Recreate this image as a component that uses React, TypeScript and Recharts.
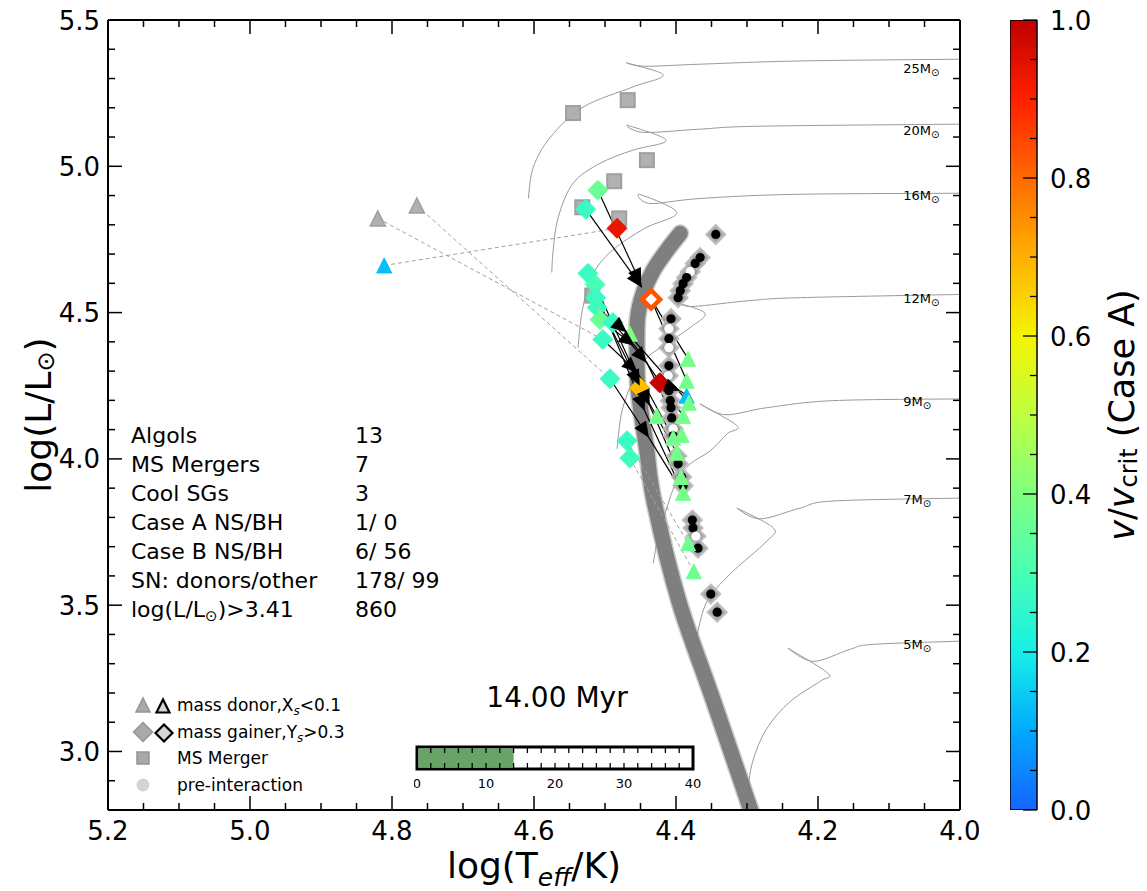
import React from 'react';
import { ComposedChart, Line, Scatter, XAxis, YAxis, BarChart, Bar } from 'recharts';

const FONT = "'DejaVu Sans', 'Liberation Sans', sans-serif";

// ---- layout ----
const W = 1147;
const H = 891;
const PAD_LEFT = 108;
const PAD_RIGHT = 187;
const PAD_TOP = 20;
const PAD_BOTTOM = 81;
const AGE_BAR_H = 22;

// ---- axes ----
const T_DOMAIN: [number, number] = [4.0, 5.2];
const L_DOMAIN: [number, number] = [2.8, 5.5];
const T_LABELS = [4.0, 4.2, 4.4, 4.6, 4.8, 5.0, 5.2];
const L_LABELS = [3.0, 3.5, 4.0, 4.5, 5.0, 5.5];
const T_MINOR_STEP = 0.05;
const L_MINOR_STEP = 0.1;

const PX_PER_T = (W - PAD_LEFT - PAD_RIGHT) / (T_DOMAIN[1] - T_DOMAIN[0]);
const PX_PER_L = (H - PAD_TOP - PAD_BOTTOM) / (L_DOMAIN[1] - L_DOMAIN[0]);

const stepTicks = (lo: number, hi: number, step: number) => {
  const n = Math.round((hi - lo) / step);
  return Array.from({ length: n + 1 }, (_, i) => +(lo + i * step).toFixed(3));
};
const isIn = (v: number, list: number[]) => list.some((m) => Math.abs(m - v) < 1e-6);
const T_TICKS = stepTicks(T_DOMAIN[0], T_DOMAIN[1], T_MINOR_STEP);
const L_TICKS = stepTicks(L_DOMAIN[0], L_DOMAIN[1], L_MINOR_STEP);

// ---- evolutionary tracks [log Teff, log L] ----
const TRACK_MASSES = [25, 20, 16, 12, 9, 7, 5];
const TRACK_25 = [[4.608, 4.890], [4.601, 4.997], [4.577, 5.099], [4.531, 5.202], [4.461, 5.271], [4.418, 5.312], [4.469, 5.353], [4.444, 5.342], [4.366, 5.349], [4.225, 5.360], [4.0, 5.366]];
const TRACK_20 = [[4.575, 4.637], [4.573, 4.712], [4.566, 4.825], [4.545, 4.942], [4.507, 5.010], [4.461, 5.055], [4.414, 5.089], [4.468, 5.140], [4.446, 5.116], [4.366, 5.127], [4.282, 5.137], [4.0, 5.144]];
const TRACK_16 = [[4.538, 4.380], [4.532, 4.507], [4.518, 4.627], [4.490, 4.712], [4.444, 4.788], [4.399, 4.842], [4.451, 4.904], [4.437, 4.873], [4.366, 4.890], [4.235, 4.904], [4.0, 4.908]];
const TRACK_12 = [[4.483, 4.034], [4.476, 4.164], [4.458, 4.284], [4.441, 4.346], [4.413, 4.394], [4.380, 4.449], [4.359, 4.497], [4.394, 4.531], [4.376, 4.521], [4.296, 4.541], [4.225, 4.551], [4.0, 4.562]];
const TRACK_9 = [[4.432, 3.644], [4.425, 3.736], [4.413, 3.832], [4.399, 3.925], [4.380, 3.983], [4.352, 4.027], [4.328, 4.086], [4.314, 4.113], [4.366, 4.188], [4.331, 4.151], [4.272, 4.175], [4.179, 4.199], [4.0, 4.205]];
const TRACK_7 = [[4.377, 3.298], [4.370, 3.401], [4.356, 3.514], [4.324, 3.606], [4.272, 3.719], [4.263, 3.764], [4.314, 3.832], [4.282, 3.795], [4.225, 3.832], [4.179, 3.856], [4.0, 3.866]];
const TRACK_5 = [[4.303, 2.801], [4.300, 2.846], [4.292, 2.966], [4.272, 3.079], [4.239, 3.171], [4.197, 3.240], [4.186, 3.267], [4.242, 3.353], [4.207, 3.308], [4.155, 3.349], [4.123, 3.366], [4.0, 3.377]];
const TRACKS = [TRACK_25, TRACK_20, TRACK_16, TRACK_12, TRACK_9, TRACK_7, TRACK_5];
const TRACK_LABEL_T = 4.08;
const TRACK_LABEL_L = [5.336, 5.123, 4.901, 4.551, 4.199, 3.863, 3.366];

// ---- single stars before interaction (dense band) ----
const PRE_INTERACTION = [[4.394, 4.771], [4.413, 4.712], [4.432, 4.644], [4.446, 4.568], [4.454, 4.483], [4.455, 4.370], [4.454, 4.257], [4.448, 4.140], [4.441, 4.027], [4.431, 3.856], [4.396, 3.514], [4.347, 3.171], [4.293, 2.788]];

// ---- binary products ----
const MS_MERGERS = [[4.545, 5.182], [4.468, 5.226], [4.441, 5.021], [4.487, 4.949], [4.532, 4.860], [4.480, 4.822], [4.518, 4.558]];
const GRAY_DONORS = [[4.820, 4.822], [4.765, 4.866]];
// [log Teff, log L, v/vcrit]
const CASE_A_DONORS = [
  [4.811, 4.661, 0.13], [4.385, 4.216, 0.13],
  [4.465, 4.428, 0.40], [4.383, 4.342, 0.38], [4.385, 4.267, 0.38], [4.382, 4.192, 0.38], [4.390, 4.147, 0.38],
  [4.427, 4.147, 0.38], [4.392, 4.082, 0.38], [4.404, 4.072, 0.38], [4.399, 4.021, 0.38], [4.393, 3.938, 0.38],
  [4.390, 3.884, 0.38], [4.383, 3.712, 0.37], [4.375, 3.616, 0.37],
];
const CASE_A_GAINERS = [
  [4.510, 4.918, 0.36], [4.527, 4.853, 0.27], [4.483, 4.788, 0.93], [4.524, 4.634, 0.27], [4.514, 4.596, 0.30],
  [4.513, 4.551, 0.27], [4.511, 4.517, 0.28], [4.507, 4.476, 0.36], [4.489, 4.466, 0.27], [4.503, 4.408, 0.27],
  [4.493, 4.274, 0.27], [4.451, 4.243, 0.68], [4.423, 4.260, 0.99], [4.469, 4.062, 0.27], [4.465, 4.003, 0.28],
];
const FAST_GAINER = [[4.435, 4.545, 0.83]];
// [log Teff, log L, 1 = hollow centre]
const CASE_B_GAINERS = [
  [4.344, 4.767, 0], [4.366, 4.688, 0], [4.373, 4.668, 0], [4.380, 4.640, 1], [4.385, 4.620, 0], [4.390, 4.599, 0],
  [4.394, 4.575, 0], [4.397, 4.551, 0], [4.407, 4.479, 0], [4.410, 4.445, 1], [4.410, 4.411, 0], [4.410, 4.380, 1],
  [4.410, 4.318, 0], [4.411, 4.284, 1], [4.410, 4.233, 0], [4.408, 4.199, 0], [4.407, 4.175, 0], [4.406, 4.140, 0],
  [4.404, 4.103, 1], [4.404, 4.079, 0], [4.399, 4.010, 0], [4.397, 3.983, 0], [4.392, 3.938, 0], [4.390, 3.908, 0],
  [4.377, 3.791, 0], [4.376, 3.764, 0], [4.372, 3.736, 1], [4.369, 3.695, 0], [4.351, 3.538, 0], [4.342, 3.476, 0],
];

// ---- links between companions ----
const ARROW_FROM = [[4.527, 4.853], [4.510, 4.918], [4.511, 4.517], [4.507, 4.476], [4.489, 4.466], [4.503, 4.408], [4.513, 4.551], [4.423, 4.260], [4.514, 4.596], [4.524, 4.634], [4.493, 4.274]];
const ARROW_TIP = [[4.448, 4.586], [4.449, 4.596], [4.469, 4.432], [4.458, 4.387], [4.441, 4.329], [4.454, 4.295], [4.451, 4.250], [4.394, 4.233], [4.437, 4.182], [4.444, 4.164], [4.438, 4.072]];
const ARROW_ON = [null, null, [4.382, 4.192], [4.390, 4.147], [4.392, 4.082], [4.404, 4.072], [4.399, 4.021], [4.385, 4.216], [4.393, 3.938], [4.390, 3.884], [4.390, 3.884]];
const PLAIN_FROM = [[4.435, 4.545], [4.435, 4.545]];
const PLAIN_TO = [[4.383, 4.342], [4.385, 4.267]];
const DASH_FROM = [[4.811, 4.661], [4.820, 4.822], [4.765, 4.866], [4.469, 4.062], [4.465, 4.003]];
const DASH_TO = [[4.483, 4.788], [4.503, 4.408], [4.493, 4.274], [4.383, 3.712], [4.375, 3.616]];

// ---- summary ----
const STAT_NAMES = ['Algols', 'MS Mergers', 'Cool SGs', 'Case A NS/BH', 'Case B NS/BH', 'SN: donors/other'];
const STAT_VALUES = ['13', '7', '3', '1/ 0', '6/ 56', '178/ 99', '860'];
const AGE_MYR = 14;
const AGE_MAX = 40;
const AGE_LABELS = [0, 10, 20, 30, 40];
const AGE_TICKS = stepTicks(0, AGE_MAX, 2);

// ---- colour scale ----
const CMAP_POS = [0, 0.1, 0.2, 0.3, 0.4, 0.5, 0.6, 0.7, 0.8, 0.9, 1.0];
const CMAP_HEX = ['#1764ff', '#00aaff', '#16f0e6', '#48ffb4', '#80ff80', '#bfff40', '#f4f400', '#ffb000', '#ff6a00', '#ff2000', '#c00000'];
const CBAR_LABELS = [0, 0.2, 0.4, 0.6, 0.8, 1.0];
const CBAR_TICKS = stepTicks(0, 1, 0.05);

const hexRgb = (h: string) => [1, 3, 5].map((i) => parseInt(h.slice(i, i + 2), 16));
const vColor = (v: number) => {
  const c = Math.max(0, Math.min(1, v));
  let i = 0;
  while (i < CMAP_POS.length - 2 && c > CMAP_POS[i + 1]) i++;
  const f = (c - CMAP_POS[i]) / (CMAP_POS[i + 1] - CMAP_POS[i]);
  const a = hexRgb(CMAP_HEX[i]);
  const b = hexRgb(CMAP_HEX[i + 1]);
  const m = a.map((av, k) => Math.round(av + (b[k] - av) * f));
  return `rgb(${m[0]},${m[1]},${m[2]})`;
};

const pts = (arr: number[][]) => arr.map((p) => ({ x: p[0], y: p[1], v: p[2] ?? 0 }));

// Catmull-Rom spline through the given points
const smoothCurve: any = (context: any) => {
  let p: number[][] = [];
  return {
    areaStart() {},
    areaEnd() {},
    lineStart() { p = []; },
    point(x: number, y: number) { p.push([+x, +y]); },
    lineEnd() {
      const n = p.length;
      if (!n) return;
      context.moveTo(p[0][0], p[0][1]);
      for (let i = 0; i < n - 1; i++) {
        const p0 = p[Math.max(i - 1, 0)];
        const p1 = p[i];
        const p2 = p[i + 1];
        const p3 = p[Math.min(i + 2, n - 1)];
        context.bezierCurveTo(
          p1[0] + (p2[0] - p0[0]) / 6, p1[1] + (p2[1] - p0[1]) / 6,
          p2[0] - (p3[0] - p1[0]) / 6, p2[1] - (p3[1] - p1[1]) / 6,
          p2[0], p2[1]);
      }
    },
  };
};

// ---- marker shapes ----
const triPoints = (cx: number, cy: number, s: number) => `${cx},${cy - s} ${cx - s},${cy + s} ${cx + s},${cy + s}`;
const diaPoints = (cx: number, cy: number, r: number) => `${cx},${cy - r} ${cx + r},${cy} ${cx},${cy + r} ${cx - r},${cy}`;

const SquareShape = ({ cx, cy }: any) => (
  <rect x={cx - 7} y={cy - 7} width={14} height={14} fill="#a9a9a9" stroke="#959595" strokeWidth={2} opacity={0.9} />
);
const GrayTriShape = ({ cx, cy }: any) => (
  <polygon points={triPoints(cx, cy, 7.5)} fill="#a9a9a9" stroke="#959595" strokeWidth={1.5} opacity={0.9} />
);
const ColorTriShape = ({ cx, cy, payload }: any) => (
  <polygon points={triPoints(cx, cy, 7.5)} fill={vColor(payload.v)} stroke={vColor(payload.v)} strokeWidth={1} />
);
const ColorDiaShape = ({ cx, cy, payload }: any) => (
  <polygon points={diaPoints(cx, cy, 10)} fill={vColor(payload.v)} stroke={vColor(payload.v)} strokeWidth={1} />
);
const OpenDiaShape = ({ cx, cy, payload }: any) => (
  <polygon points={diaPoints(cx, cy, 9)} fill="#fff" stroke={vColor(payload.v)} strokeWidth={4.5} />
);
const GainerBackShape = ({ cx, cy }: any) => (
  <polygon points={diaPoints(cx, cy, 9.5)} fill="#9b9b9b" stroke="#b8b8b8" strokeWidth={2} opacity={0.9} />
);
const GainerCoreShape = ({ cx, cy, payload }: any) => (
  <circle cx={cx} cy={cy} r={4.6} fill={payload.v ? '#fff' : '#000'} />
);
const ArrowHeadShape = ({ cx, cy, payload }: any) => {
  const dx = -(payload.x - payload.fx) * PX_PER_T;
  const dy = -(payload.y - payload.fy) * PX_PER_L;
  const a = (Math.atan2(dy, dx) * 180) / Math.PI;
  return <polygon points="0,0 -16,-7 -16,7" transform={`translate(${cx},${cy}) rotate(${a})`} fill="#000" />;
};
const TrackLabelShape = ({ cx, cy, payload }: any) => (
  <text x={cx} y={cy + 5} fontSize={13} fontFamily={FONT} fill="#000">
    {`${payload.m}M`}
    <tspan fontSize={10} dy={3}>⊙</tspan>
  </text>
);
const AgeFillShape = ({ x, y, width, height }: any) => (
  <rect x={x + 1.5} y={y + 1.5} width={Math.max(width - 1.5, 0)} height={Math.max(height - 3, 0)} fill="#68a468" />
);

// ---- axis ticks (pointing inwards) ----
const TICK_W = 1.5;
const BottomTick = ({ x, y, payload }: any) => {
  const major = isIn(payload.value, T_LABELS);
  return (
    <g>
      <line x1={x} x2={x} y1={y} y2={y - (major ? 14 : 7)} stroke="#000" strokeWidth={TICK_W} />
      {major && (
        <text x={x} y={y + 30} textAnchor="middle" fontSize={26} fontFamily={FONT} fill="#000">
          {payload.value.toFixed(1)}
        </text>
      )}
    </g>
  );
};
const TopTick = ({ x, y, payload }: any) => {
  const major = isIn(payload.value, T_LABELS);
  return <line x1={x} x2={x} y1={y} y2={y + (major ? 14 : 7)} stroke="#000" strokeWidth={TICK_W} />;
};
const LeftTick = ({ x, y, payload }: any) => {
  const major = isIn(payload.value, L_LABELS);
  return (
    <g>
      <line x1={x} x2={x + (major ? 14 : 7)} y1={y} y2={y} stroke="#000" strokeWidth={TICK_W} />
      {major && (
        <text x={x - 8} y={y + 9.5} textAnchor="end" fontSize={26} fontFamily={FONT} fill="#000">
          {payload.value.toFixed(1)}
        </text>
      )}
    </g>
  );
};
const RightTick = ({ x, y, payload }: any) => {
  const major = isIn(payload.value, L_LABELS);
  return <line x1={x} x2={x - (major ? 14 : 7)} y1={y} y2={y} stroke="#000" strokeWidth={TICK_W} />;
};
const CbarTick = ({ x, y, payload }: any) => {
  const major = isIn(payload.value, CBAR_LABELS);
  return (
    <g>
      <line x1={x} x2={x - (major ? 14 : 7)} y1={y} y2={y} stroke="#000" strokeWidth={1.3} />
      {major && (
        <text x={x + 13} y={y + 9.5} fontSize={26} fontFamily={FONT} fill="#000">
          {payload.value.toFixed(1)}
        </text>
      )}
    </g>
  );
};
// ticks on both long edges of the age bar
const AgeTick = ({ x, y, payload }: any) => (
  <g>
    <line x1={x} x2={x} y1={y} y2={y - 6} stroke="#000" strokeWidth={1.3} />
    <line x1={x} x2={x} y1={y - AGE_BAR_H} y2={y - AGE_BAR_H + 6} stroke="#000" strokeWidth={1.3} />
    {isIn(payload.value, AGE_LABELS) && (
      <text x={x} y={y + 19} textAnchor="middle" fontSize={13} fontFamily={FONT} fill="#000">
        {payload.value}
      </text>
    )}
  </g>
);

const FRAME = { stroke: '#000', strokeWidth: 2 };

export default function App() {
  const trackLabels = TRACK_MASSES.map((m, i) => ({ x: TRACK_LABEL_T, y: TRACK_LABEL_L[i], m }));
  const arrowHeads = ARROW_TIP.map((t, i) => ({ x: t[0], y: t[1], fx: ARROW_FROM[i][0], fy: ARROW_FROM[i][1] }));
  const lineCommon = { dot: false, activeDot: false, isAnimationActive: false, legendType: 'none' as const, dataKey: 'y' };

  return (
    <div style={{ position: 'absolute', left: 0, top: 0, width: W, height: H, background: '#fff', fontFamily: FONT }}>
      <div style={{ position: 'absolute', left: 0, top: 0 }}>
        <ComposedChart width={W} height={H} margin={{ top: 0, right: 0, bottom: 0, left: 0 }}>
          {TRACKS.map((tr, i) => (
            <Line key={`trk${i}`} {...lineCommon} data={pts(tr)} type={smoothCurve} stroke="#9a9a9a" strokeWidth={1} />
          ))}
          <Line {...lineCommon} data={pts(PRE_INTERACTION)} type={smoothCurve} stroke="#8e8e8e" strokeWidth={18} strokeLinecap="round" strokeOpacity={0.45} />
          <Line {...lineCommon} data={pts(PRE_INTERACTION)} type={smoothCurve} stroke="#7f7f7f" strokeWidth={15} strokeLinecap="round" />
          {DASH_FROM.map((f, i) => (
            <Line key={`dash${i}`} {...lineCommon} data={pts([f, DASH_TO[i]])} type="linear" stroke="#a0a0a0" strokeWidth={1} strokeDasharray="4 3" />
          ))}
          {ARROW_FROM.map((f, i) => (
            <Line key={`arr${i}`} {...lineCommon} data={pts([f, ARROW_TIP[i]])} type="linear" stroke="#000" strokeWidth={1.2} />
          ))}
          {ARROW_ON.map((d, i) =>
            d ? <Line key={`on${i}`} {...lineCommon} data={pts([ARROW_TIP[i], d])} type="linear" stroke="#000" strokeWidth={1.2} /> : null
          )}
          {PLAIN_FROM.map((f, i) => (
            <Line key={`pl${i}`} {...lineCommon} data={pts([f, PLAIN_TO[i]])} type="linear" stroke="#000" strokeWidth={1.2} />
          ))}

          <Scatter data={pts(MS_MERGERS)} shape={SquareShape} isAnimationActive={false} legendType="none" />
          <Scatter data={pts(GRAY_DONORS)} shape={GrayTriShape} isAnimationActive={false} legendType="none" />
          <Scatter data={pts(CASE_B_GAINERS)} shape={GainerBackShape} isAnimationActive={false} legendType="none" />
          <Scatter data={pts(CASE_B_GAINERS)} shape={GainerCoreShape} isAnimationActive={false} legendType="none" />
          <Scatter data={pts(CASE_A_DONORS)} shape={ColorTriShape} isAnimationActive={false} legendType="none" />
          <Scatter data={pts(CASE_A_GAINERS)} shape={ColorDiaShape} isAnimationActive={false} legendType="none" />
          <Scatter data={pts(FAST_GAINER)} shape={OpenDiaShape} isAnimationActive={false} legendType="none" />
          <Scatter data={arrowHeads} shape={ArrowHeadShape} isAnimationActive={false} legendType="none" />
          <Scatter data={trackLabels} xAxisId="top" yAxisId="right" shape={TrackLabelShape} isAnimationActive={false} legendType="none" />

          <XAxis type="number" dataKey="x" domain={T_DOMAIN} reversed allowDataOverflow ticks={T_TICKS} interval={0}
            height={PAD_BOTTOM} tick={<BottomTick />} tickLine={false} tickSize={0} tickMargin={0} axisLine={FRAME} />
          <XAxis xAxisId="top" orientation="top" type="number" dataKey="x" domain={T_DOMAIN} reversed allowDataOverflow
            ticks={T_TICKS} interval={0} height={PAD_TOP} tick={<TopTick />} tickLine={false} tickSize={0} tickMargin={0} axisLine={FRAME} />
          <YAxis type="number" dataKey="y" domain={L_DOMAIN} allowDataOverflow ticks={L_TICKS} interval={0}
            width={PAD_LEFT} tick={<LeftTick />} tickLine={false} tickSize={0} tickMargin={0} axisLine={FRAME} />
          <YAxis yAxisId="right" orientation="right" type="number" dataKey="y" domain={L_DOMAIN} allowDataOverflow
            ticks={L_TICKS} interval={0} width={PAD_RIGHT} tick={<RightTick />} tickLine={false} tickSize={0} tickMargin={0} axisLine={FRAME} />
        </ComposedChart>
      </div>

      {/* colour bar */}
      <div style={{ position: 'absolute', left: 1010, top: 0 }}>
        <BarChart width={137} height={H} data={[{ name: 'v', v: 1 }]} margin={{ top: PAD_TOP, right: 0, bottom: PAD_BOTTOM, left: 0 }} barCategoryGap={0}>
          <defs>
            <linearGradient id="vcritScale" x1="0" y1="1" x2="0" y2="0">
              {CMAP_POS.map((p, i) => (
                <stop key={i} offset={p} stopColor={CMAP_HEX[i]} />
              ))}
            </linearGradient>
          </defs>
          <Bar dataKey="v" fill="url(#vcritScale)" stroke="#000" strokeWidth={1.5} isAnimationActive={false} legendType="none" />
          <XAxis dataKey="name" type="category" hide />
          <YAxis orientation="right" type="number" domain={[0, 1]} allowDataOverflow ticks={CBAR_TICKS} interval={0} width={110}
            tick={<CbarTick />} tickLine={false} tickSize={0} tickMargin={0} axisLine={false} />
        </BarChart>
      </div>

      {/* age bar */}
      <div style={{ position: 'absolute', left: 414, top: 744 }}>
        <BarChart layout="vertical" width={294} height={3 + AGE_BAR_H + 33} data={[{ name: 'age', t: AGE_MYR }]}
          margin={{ top: 3, right: 15, bottom: 0, left: 3 }} barCategoryGap={0}>
          <Bar dataKey="t" shape={AgeFillShape} background={{ fill: 'none', stroke: '#000', strokeWidth: 3 }}
            isAnimationActive={false} legendType="none" />
          <XAxis type="number" domain={[0, AGE_MAX]} allowDataOverflow ticks={AGE_TICKS} interval={0} height={33}
            tick={<AgeTick />} tickLine={false} tickSize={0} tickMargin={0} axisLine={false} />
          <YAxis type="category" dataKey="name" hide />
        </BarChart>
      </div>

      {/* titles, summary and key */}
      <svg width={W} height={H} style={{ position: 'absolute', left: 0, top: 0, pointerEvents: 'none' }} fontFamily={FONT}>
        <text x={534} y={878} textAnchor="middle" fontSize={36} fill="#000">
          log(T<tspan dy={8} fontSize={25} fontStyle="italic">eff</tspan><tspan dy={-8}>/K)</tspan>
        </text>
        <text transform="translate(38,415) rotate(-90)" textAnchor="middle" dominantBaseline="central" fontSize={36} fill="#000">
          log(L/L<tspan dy={8} fontSize={24}>⊙</tspan><tspan dy={-8}>)</tspan>
        </text>
        <text transform="translate(1122,415) rotate(-90)" textAnchor="middle" dominantBaseline="central" fontSize={35} fill="#000">
          <tspan fontStyle="italic">v</tspan>/<tspan fontStyle="italic">v</tspan>
          <tspan dy={7} fontSize={24}>crit</tspan>
          <tspan dy={-7}> (Case A)</tspan>
        </text>

        {STAT_NAMES.map((s, i) => (
          <text key={s} x={131} y={443 + i * 29} fontSize={22} fill="#000">{s}</text>
        ))}
        <text x={131} y={443 + 6 * 29} fontSize={22} fill="#000">
          log(L/L<tspan dy={4} fontSize={15}>⊙</tspan><tspan dy={-4}>)&gt;3.41</tspan>
        </text>
        {STAT_VALUES.map((s, i) => (
          <text key={i} x={355} y={443 + i * 29} fontSize={22} fill="#000">{s}</text>
        ))}

        <text x={557} y={707} textAnchor="middle" fontSize={28} fill="#000">{`${AGE_MYR.toFixed(2)} Myr`}</text>

        <polygon points={triPoints(143, 705, 7)} fill="#a9a9a9" stroke="#959595" strokeWidth={1.5} />
        <polygon points={triPoints(163, 706, 6.5)} fill="#d6d6d6" stroke="#000" strokeWidth={2.2} />
        <text x={177} y={711} fontSize={17} fill="#000">
          mass donor,X<tspan dy={4} fontSize={12} fontStyle="italic">s</tspan><tspan dy={-4}>&lt;0.1</tspan>
        </text>
        <polygon points={diaPoints(143, 732, 9.5)} fill="#a9a9a9" stroke="#959595" strokeWidth={1.5} />
        <polygon points={diaPoints(164, 733, 8.5)} fill="#d6d6d6" stroke="#000" strokeWidth={2.2} />
        <text x={177} y={738} fontSize={17} fill="#000">
          mass gainer,Y<tspan dy={4} fontSize={12} fontStyle="italic">s</tspan><tspan dy={-4}>&gt;0.3</tspan>
        </text>
        <rect x={137} y={752} width={12} height={12} fill="#a9a9a9" stroke="#959595" strokeWidth={1.5} />
        <text x={177} y={764} fontSize={17} fill="#000">MS Merger</text>
        <circle cx={143} cy={785} r={6.5} fill="#d4d4d4" />
        <text x={177} y={791} fontSize={17} fill="#000">pre-interaction</text>
      </svg>
    </div>
  );
}
